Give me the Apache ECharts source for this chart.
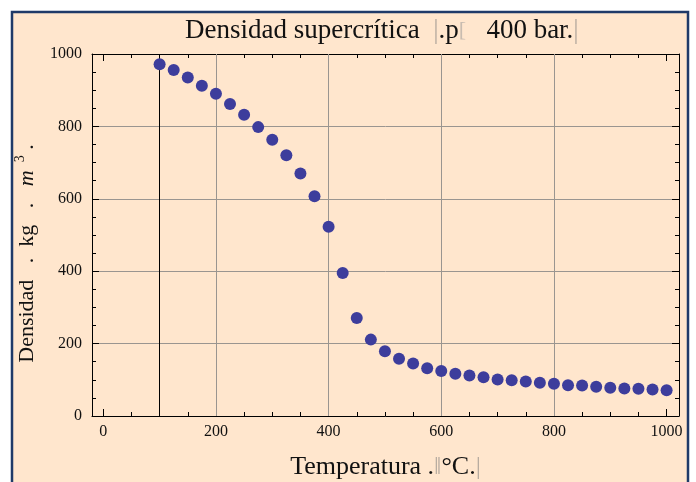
<!DOCTYPE html>
<html>
<head>
<meta charset="utf-8">
<script src="https://cdn.jsdelivr.net/npm/echarts@6/dist/echarts.min.js"></script>
<style>html,body{margin:0;padding:0;background:#fff}#c{width:696px;height:482px}</style>
</head>
<body>
<div id="c"></div>
<script>
// Data
const temperatures = [100,125,150,175,200,225,250,275,300,325,350,375,400,425,450,475,500,525,550,575,600,625,650,675,700,725,750,775,800,825,850,875,900,925,950,975,1000];
const densities = [972,956,935,912,890,862,832,798,763,720,670,607,523,395,271,211,179,158,145,132,124,117,112,107,101,99,95,92,89,85,84,81,78,76,75,73,71];
const xMajorTicks = [0,200,400,600,800,1000];
const xMinorTicks = [0,50,100,150,200,250,300,350,400,450,500,550,600,650,700,750,800,850,900,950,1000];
const xGridLines = [200,400,600,800];
const xRefLine = [100];

const FONT = 'Liberation Serif';
const gridRect = {left: 92, top: 54, right: 17, bottom: 66, outerBoundsMode: 'none', containLabel: false};
const XMIN = -20, XMAX = 1022;

const chart = echarts.init(document.getElementById('c'));
const points = temperatures.map((t, i) => [t, densities[i]]);
const plain = v => String(v);

const tickLine = {color: '#000', width: 1};
const option = {
  animation: false,
  backgroundColor: '#fff',
  graphic: [{
    type: 'rect', z: -10, silent: true,
    shape: {x: 12, y: 12, width: 676, height: 480},
    style: {fill: '#FFE6CD', stroke: '#1F3A68', lineWidth: 2.5}
  }],
  title: {
    left: 185, top: 17, padding: 0,
    text: '{a|Densidad supercrítica  }{g||}{a|.p}{h|[}{a|   400 bar.}{g||}',
    textStyle: {
      fontWeight: 'normal',
      rich: {
        a: {fontFamily: FONT, fontSize: 27, fontWeight: 'normal', color: '#111'},
        g: {fontFamily: FONT, fontSize: 27, fontWeight: 'normal', color: '#b8aca0'},
        h: {fontFamily: FONT, fontSize: 22, fontWeight: 'normal', color: '#c8bcb0'}
      }
    }
  },
  grid: [
    Object.assign({}, gridRect),
    Object.assign({}, gridRect)
  ],
  xAxis: [
    {
      type: 'value', gridIndex: 0, position: 'bottom', min: XMIN, max: XMAX,
      axisLine: {show: true, onZero: false, lineStyle: tickLine},
      axisTick: {show: true, inside: true, length: 7, customValues: xMajorTicks, lineStyle: tickLine},
      axisLabel: {customValues: xMajorTicks, formatter: plain, fontFamily: FONT, fontSize: 16, color: '#111', margin: 8},
      splitLine: {show: false},
      name: '{a|Temperatura }{a|.}{g|‖}{a|°C}{a|.}{g||}',
      nameLocation: 'middle', nameGap: 38,
      nameTextStyle: {
        rich: {
          a: {fontFamily: FONT, fontSize: 26, color: '#111'},
          g: {fontFamily: FONT, fontSize: 26, color: '#b8aca0'}
        }
      }
    },
    {
      type: 'value', gridIndex: 0, position: 'top', min: XMIN, max: XMAX,
      axisLine: {show: true, onZero: false, lineStyle: tickLine},
      axisTick: {show: true, inside: true, length: 7, customValues: xMajorTicks, lineStyle: tickLine},
      axisLabel: {show: false},
      splitLine: {show: false}
    },
    {
      type: 'value', gridIndex: 1, position: 'bottom', min: XMIN, max: XMAX,
      axisLine: {show: false, onZero: false},
      axisTick: {show: true, inside: true, length: 4, customValues: xMinorTicks, lineStyle: tickLine},
      axisLabel: {show: false},
      splitLine: {show: false}
    },
    {
      type: 'value', gridIndex: 1, position: 'top', min: XMIN, max: XMAX,
      axisLine: {show: false, onZero: false},
      axisTick: {show: true, inside: true, length: 4, customValues: xMinorTicks, lineStyle: tickLine},
      axisLabel: {show: false},
      splitLine: {show: false}
    }
  ],
  yAxis: [
    {
      type: 'value', gridIndex: 0, position: 'left', min: 0, max: 1000, interval: 200,
      axisLine: {show: true, onZero: false, lineStyle: tickLine},
      axisTick: {show: true, inside: true, length: 7, lineStyle: tickLine},
      minorTick: {show: true, splitNumber: 4, length: 4, lineStyle: tickLine},
      axisLabel: {formatter: plain, fontFamily: FONT, fontSize: 16, color: '#111', margin: 10},
      splitLine: {show: true, lineStyle: {color: '#9a9590', width: 1}},
      name: '{a|Densidad   .  kg   .   }{i|m}{s|3}{a| .}',
      nameLocation: 'middle', nameGap: 51, nameRotate: 90,
      nameTextStyle: {
        padding: [0, 37, 0, 0],
        rich: {
          a: {fontFamily: FONT, fontSize: 22, color: '#111'},
          i: {fontFamily: FONT, fontSize: 22, fontStyle: 'italic', color: '#111'},
          s: {fontFamily: FONT, fontSize: 14, color: '#111', padding: [0, 0, 14, 8]}
        }
      }
    },
    {
      type: 'value', gridIndex: 0, position: 'right', min: 0, max: 1000, interval: 200,
      axisLine: {show: true, onZero: false, lineStyle: tickLine},
      axisTick: {show: true, inside: true, length: 7, lineStyle: tickLine},
      minorTick: {show: true, splitNumber: 4, length: 4, lineStyle: tickLine},
      axisLabel: {show: false},
      splitLine: {show: false}
    },
    {
      type: 'value', gridIndex: 1, min: 0, max: 1000, show: false
    }
  ],
  series: [{
    type: 'scatter', xAxisIndex: 0, yAxisIndex: 0, z: 3,
    symbol: 'circle', symbolSize: 12,
    itemStyle: {color: '#3D3D9C', opacity: 1},
    data: points,
    markLine: {
      z: 1, silent: true, symbol: 'none', label: {show: false}, animation: false,
      data: xGridLines.map(v => ({xAxis: v, lineStyle: {color: '#9a9590', width: 1, type: 'solid'}}))
        .concat(xRefLine.map(v => ({xAxis: v, lineStyle: {color: '#000', width: 1, type: 'solid'}})))
    }
  }]
};
chart.setOption(option);
</script>
</body>
</html>
